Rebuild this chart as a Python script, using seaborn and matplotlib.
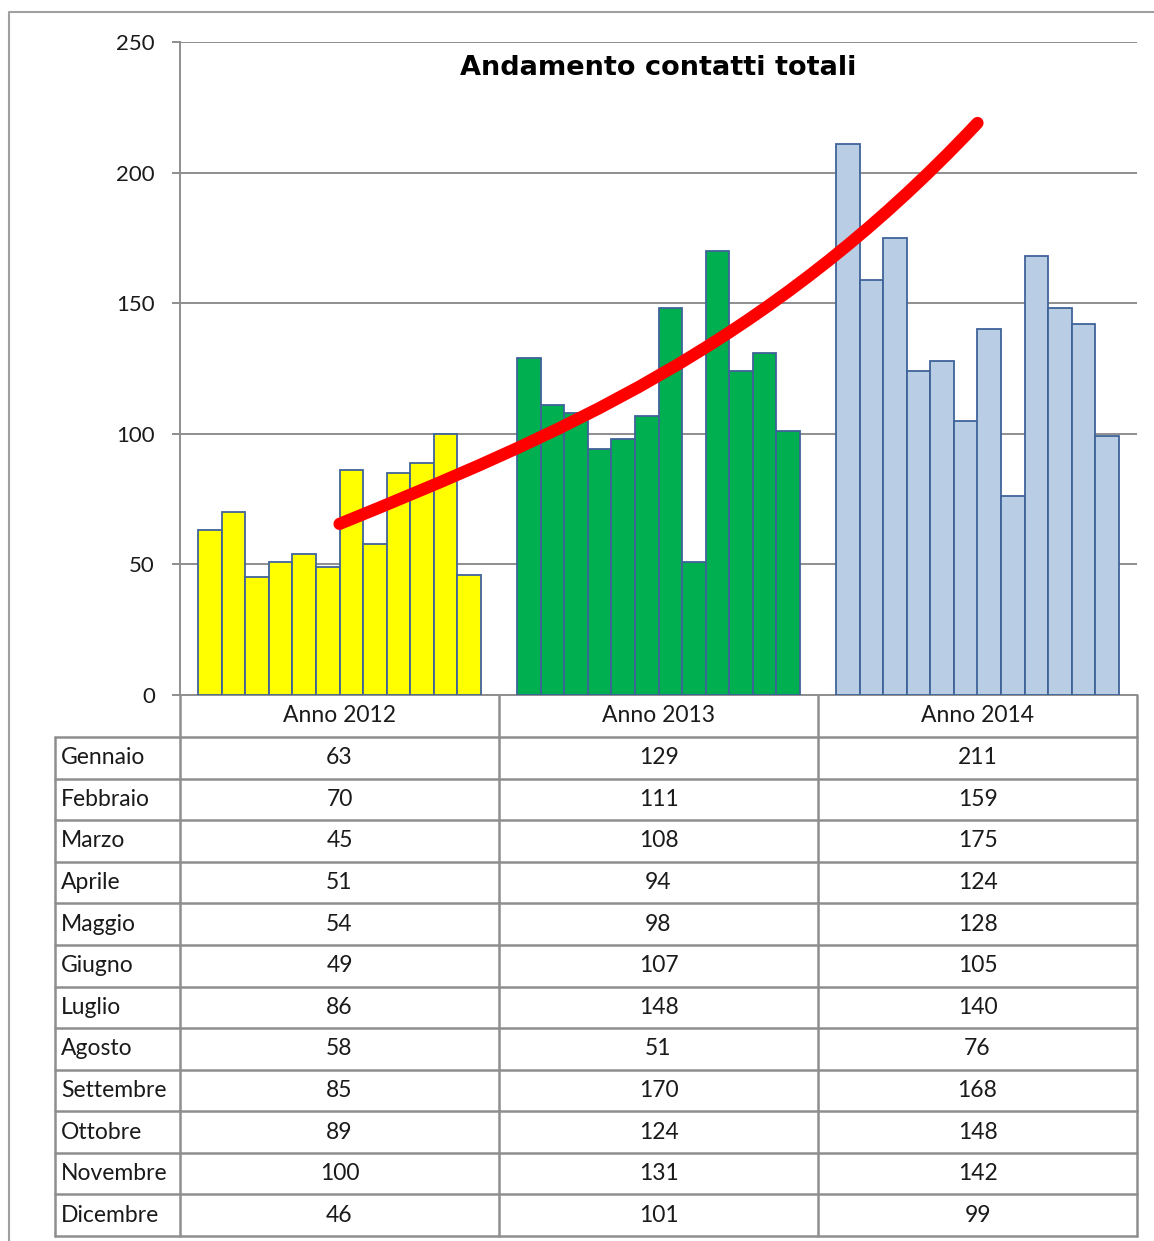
import numpy as np
import pandas as pd
import matplotlib
matplotlib.use("Agg")
import matplotlib.pyplot as plt
import seaborn as sns
from matplotlib.lines import Line2D
from matplotlib.path import Path
from matplotlib.patches import PathPatch

# ---------------- data ----------------
years = ["Anno 2012", "Anno 2013", "Anno 2014"]
months = ["Gennaio", "Febbraio", "Marzo", "Aprile", "Maggio", "Giugno",
          "Luglio", "Agosto", "Settembre", "Ottobre", "Novembre", "Dicembre"]
v2012 = [63, 70, 45, 51, 54, 49, 86, 58, 85, 89, 100, 46]
v2013 = [129, 111, 108, 94, 98, 107, 148, 51, 170, 124, 131, 101]
v2014 = [211, 159, 175, 124, 128, 105, 140, 76, 168, 148, 142, 99]
year_colors = ["#ffff00", "#00b050", "#b9cde5"]
# hand-drawn red trend curve: cubic Bezier (start, two controls, end),
# as (category position, value)
trend_x = [0.0, 0.667, 1.333, 2.0]
trend_y = [65.5, 98.8, 132.3, 219.0]
title = "Andamento contatti totali"
yticks = [0, 50, 100, 150, 200, 250]

# ---------------- style ----------------
sns.set_theme(style="white")
plt.rcParams["font.family"] = ["Lato", "DejaVu Sans"]

W, H = 1154, 1241
fig = plt.figure(figsize=(W / 100, H / 100), dpi=100)
fig.patch.set_facecolor("white")
ax = fig.add_axes([180 / W, 1 - 695 / H, (1137 - 180) / W, (695 - 42) / H])

GRAY = "#8e8e8e"
TXT = "#1a1a1a"

df = pd.DataFrame({
    "anno": np.repeat(years, 12),
    "mese": months * 3,
    "valore": v2012 + v2013 + v2014,
})
sns.barplot(data=df, x="anno", y="valore", hue="mese", order=years,
            hue_order=months, palette=["#cccccc"] * 12, width=0.887,
            dodge=True, legend=False, edgecolor="#3f6399", linewidth=1.3,
            saturation=1, errorbar=None, ax=ax, zorder=3)
for cont in ax.containers:
    for i, bar in enumerate(cont):
        bar.set_facecolor(year_colors[i])

curve = Path(list(zip(trend_x, trend_y)),
             [Path.MOVETO, Path.CURVE4, Path.CURVE4, Path.CURVE4])
ax.add_patch(PathPatch(curve, facecolor="none", edgecolor="#ff0000", lw=8.8,
                       capstyle="round", joinstyle="round", zorder=5))

ax.set_xlim(-0.5, 2.5)
ax.set_ylim(0, 250)
ax.set_yticks(yticks)
ax.set_xlabel("")
ax.set_ylabel("")
ax.yaxis.grid(True, color=GRAY, lw=1.4)
ax.xaxis.grid(False)
ax.set_axisbelow(True)
for s in ["top", "right"]:
    ax.spines[s].set_visible(False)
for s in ["left", "bottom"]:
    ax.spines[s].set_color(GRAY)
    ax.spines[s].set_linewidth(1.4)
ax.tick_params(axis="y", left=True, length=6, width=1.4, color=GRAY, pad=12,
               labelsize=16, labelcolor=TXT)
ax.tick_params(axis="x", bottom=False, labelbottom=False)

ax.text(0.5, (695 - 68) / 653, title, transform=ax.transAxes, ha="center",
        va="center", fontsize=19.5, fontweight="bold", family="DejaVu Sans",
        color="black", zorder=6)

# ---------------- data table ----------------
def fx(px):
    return px / W
def fy(py):
    return 1 - py / H

bounds = [-0.5, 0.5, 1.5, 2.5]
xb = [ax.transData.transform((b, 0))[0] * W / fig.bbox.width for b in bounds]
xc = [ax.transData.transform((i, 0))[0] * W / fig.bbox.width for i in range(3)]

head_top, head_bot, tab_bot = 695, 737, 1236
rh = (tab_bot - head_bot) / 12
label_left = 55

def line(x0, y0, x1, y1, lw=1.8):
    fig.add_artist(Line2D([fx(x0), fx(x1)], [fy(y0), fy(y1)], color=GRAY,
                          lw=lw, transform=fig.transFigure))

for k in range(13):
    yy = head_bot + k * rh
    line(label_left, yy, xb[-1], yy)
for x in xb:
    line(x, head_top, x, tab_bot)
line(label_left, head_bot, label_left, tab_bot)

for i, yr in enumerate(years):
    fig.text(fx(xc[i]), fy((head_top + head_bot) / 2), yr, ha="center",
             va="center", fontsize=16.5, color=TXT)

series = [v2012, v2013, v2014]
for r, m in enumerate(months):
    yc = head_bot + (r + 0.5) * rh
    fig.text(fx(label_left + 6), fy(yc), m, ha="left", va="center",
             fontsize=16.5, color=TXT)
    for i in range(3):
        fig.text(fx(xc[i]), fy(yc), str(series[i][r]), ha="center",
                 va="center", fontsize=16.5, color=TXT)

# outer frame (left and top edges visible)
fig.add_artist(Line2D([fx(9), fx(9), fx(W)], [fy(H), fy(12), fy(12)],
                      color="#a0a0a0", lw=1.5, transform=fig.transFigure))

fig.savefig("out.png", dpi=100)
